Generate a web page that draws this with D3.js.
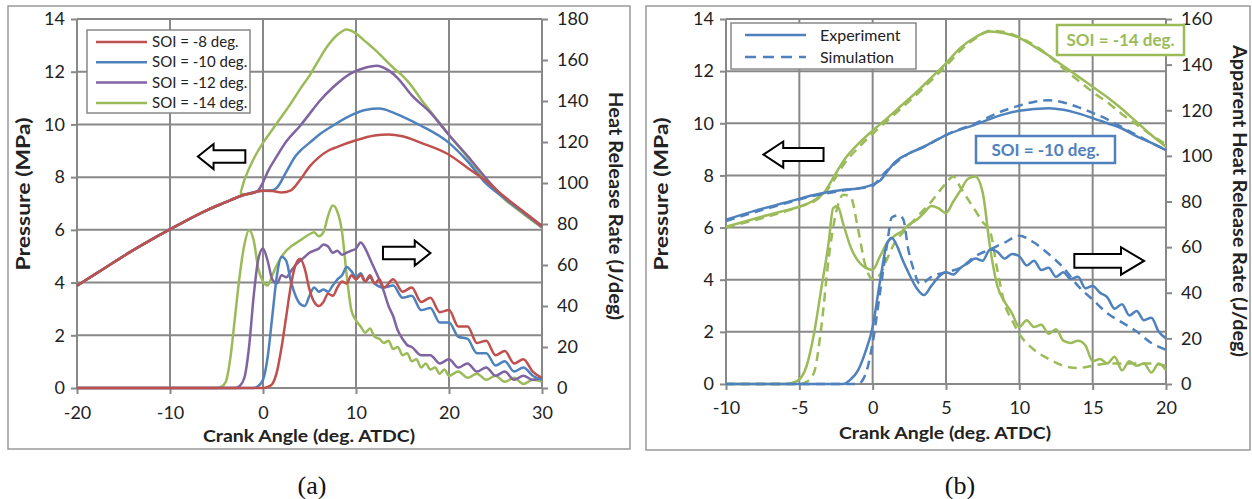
<!DOCTYPE html>
<html><head><meta charset="utf-8">
<script src="https://cdn.jsdelivr.net/npm/d3@7"></script>
<style>body{margin:0;background:#fff}svg{display:block}text{font-family:Lato,"Open Sans",sans-serif}</style>
</head><body><svg id="c" width="1252" height="499"></svg>
<script>
// ---------- DATA : panel (a) ----------
const xTicksA = [-20,-10,0,10,20,30];
const yTicksP = [0,2,4,6,8,10,12,14];
const yTicksHA = [0,20,40,60,80,100,120,140,160,180];
const seriesNamesA = ["SOI = -8 deg.","SOI = -10 deg.","SOI = -12 deg.","SOI = -14 deg."];
const commonP = [[-20,3.88],[-18,4.33],[-16,4.78],[-14,5.22],[-12,5.63],[-10,6.02],[-8,6.4],[-6,6.75],[-4,7.05],[-3,7.2],[-2,7.33]];
const presA_m8 = [[-1,7.42],[0,7.48],[1,7.47],[2,7.42],[3,7.5],[4,7.9],[5,8.4],[6,8.75],[7,9.0],[8,9.15],[10,9.4],[12,9.58],[13.5,9.62],[15,9.55],[17,9.3],[20,8.85],[22,8.35],[24,7.85],[26,7.25],[28,6.7],[30,6.15]];
const presA_m10 = [[-1,7.43],[0,7.48],[1,7.5],[1.5,7.6],[2.5,8.2],[3.5,8.8],[4,9.0],[5,9.3],[6,9.6],[7.5,9.95],[9.5,10.35],[11,10.55],[12.5,10.6],[14,10.45],[15,10.3],[17,9.95],[20,9.3],[22,8.6],[24,7.75],[26,7.2],[28,6.68],[30,6.15]];
const presA_m12 = [[-1,7.4],[-0.5,7.5],[0,7.8],[0.5,8.2],[1.5,8.8],[2.5,9.35],[4,9.95],[5,10.4],[6,10.85],[7.5,11.4],[9.5,11.95],[11,12.15],[12.2,12.23],[13.5,12.05],[14.5,11.75],[16,11.1],[18,10.45],[20,9.6],[22,8.8],[24,7.95],[26,7.2],[28,6.65],[30,6.1]];
const presA_m14 = [[-2.5,7.4],[-2,7.9],[-1,8.7],[0,9.3],[1,9.8],[2,10.3],[3,10.8],[4,11.35],[5,11.85],[6,12.45],[7,13.0],[8,13.4],[9,13.6],[10,13.45],[11,13.15],[12,12.85],[13,12.5],[14,12.15],[15,11.85],[16,11.45],[17,10.95],[18,10.5],[19,10.05],[20,9.6],[22,8.75],[24,7.85],[26,7.15],[28,6.6],[30,6.08]];
const hrrA_m8 = [[-20,0],[0,0],[0.5,0.5],[1,2],[1.5,8],[2,20],[2.5,35],[3,50],[3.5,60],[4,63],[4.5,58],[5,48],[5.5,42],[6,40],[6.5,42],[7,46],[7.5,45],[8,49],[8.5,52],[9,51],[9.5,55],[10,53],[10.5,55],[11,52],[11.5,55],[12,51],[12.5,53],[13,49],[14,53],[15,47],[16,49],[17,42],[18,44],[19,37],[20,38],[21,30],[22,30],[23,22],[24,23],[25,16],[26,18],[27,12],[28,14],[29,8],[30,5]];
const hrrA_m10 = [[-20,0],[-1,0],[-0.5,1],[0,4],[0.5,15],[1,35],[1.5,55],[2,64],[2.5,62],[3,52],[3.5,45],[4,41],[4.5,40],[5,45],[5.5,49],[6,47],[6.5,48],[7,47],[7.5,50],[8,53],[8.5,55],[9,59],[9.5,57],[10,54],[10.5,56],[11,52],[11.5,54],[12,51],[13,49],[14,50],[15,44],[16,45],[17,38],[18,39],[19,32],[20,32],[21,25],[22,24],[23,17],[24,17],[25,11],[26,13],[27,8],[28,10],[29,6],[30,4]];
const hrrA_m12 = [[-20,0],[-3,0],[-2.5,1],[-2,5],[-1.5,20],[-1,45],[-0.5,63],[0,68],[0.5,62],[1,53],[1.5,51],[2,55],[2.5,54],[3,57],[3.5,60],[4,62],[4.5,64],[5,66],[5.5,67],[6,68],[6.5,70],[7,69],[7.5,66],[8,67],[8.5,65],[9,66],[9.5,67],[10,68],[10.5,71],[11,68],[11.5,63],[12,58],[12.5,53],[13,47],[13.5,40],[14,35],[14.5,28],[15,24],[15.5,21],[16,20],[17,16],[18,16],[19,12],[20,14],[21,10],[22,12],[23,8],[24,10],[25,6],[26,8],[27,4],[28,6],[29,4],[30,5]];
const hrrA_m14 = [[-20,0],[-5,0],[-4.5,0.5],[-4,3],[-3.5,15],[-3,35],[-2.5,55],[-2,70],[-1.5,77],[-1,72],[-0.5,58],[0,52],[0.5,50],[1,55],[1.5,60],[2,64],[2.5,67],[3,69],[4,72],[5,75],[5.5,76],[6,74],[6.5,76],[7,84],[7.5,89],[8,86],[8.5,76],[9,55],[9.5,38],[10,33],[10.5,30],[11,27],[11.5,29],[12,25],[12.5,24],[13,22],[13.5,23],[14,19],[14.5,20],[15,16],[15.5,17],[16,13],[16.5,14],[17,10],[17.5,12],[18,9],[18.5,10],[19,7],[19.5,9],[20,6],[21,8],[22,5],[23,7],[24,4],[25,6],[26,3],[27,5],[28,2],[29,4],[30,3]];

// ---------- DATA : panel (b) ----------
const xTicksB = [-10,-5,0,5,10,15,20];
const yTicksHB = [0,20,40,60,80,100,120,140,160];
const legendNamesB = ["Experiment","Simulation"];
const presB_m10_exp = [[-10,6.3],[-8,6.65],[-6,6.95],[-4,7.25],[-2,7.45],[-1,7.5],[0,7.65],[0.5,7.8],[1,8.15],[1.5,8.5],[2.5,8.85],[3.5,9.1],[5,9.55],[7,9.95],[9,10.35],[10,10.48],[12,10.58],[13,10.52],[14,10.38],[15,10.2],[16,10.0],[17,9.8],[18,9.5],[19,9.25],[20,8.97]];
const presB_m10_sim = [[-10,6.25],[-8,6.6],[-6,6.92],[-4,7.22],[-2,7.42],[-1,7.5],[0,7.6],[0.5,7.9],[1,8.2],[1.5,8.45],[2.5,8.85],[3.5,9.1],[5,9.55],[7,10.0],[9,10.5],[10,10.68],[11,10.82],[12,10.88],[13,10.8],[14,10.62],[15,10.4],[16,10.15],[17,9.85],[18,9.55],[19,9.25],[20,8.98]];
const presB_m14_exp = [[-10,6.03],[-8,6.35],[-6,6.65],[-5,6.8],[-4,7.05],[-3.3,7.35],[-2.6,8.0],[-2,8.55],[-1,9.2],[0,9.72],[1,10.2],[2,10.7],[3,11.2],[4,11.75],[5,12.3],[6,12.9],[7,13.3],[8,13.52],[9,13.45],[10,13.28],[11,12.95],[12,12.6],[13,12.2],[14,11.8],[15,11.4],[16,11.0],[17,10.55],[18,10.05],[19,9.55],[20,9.1]];
const presB_m14_sim = [[-10,6.0],[-5,6.8],[-4,7.0],[-3.3,7.3],[-2.6,7.85],[-2,8.4],[-1,9.05],[0,9.6],[1,10.1],[2,10.6],[3,11.1],[4,11.65],[5,12.2],[6,12.8],[7,13.25],[8,13.55],[9,13.5],[10,13.3],[11,13.0],[12,12.6],[13,12.1],[14,11.65],[15,11.2],[16,10.8],[17,10.35],[18,9.95],[19,9.55],[20,9.2]];
const hrrB_m14_exp = [[-10,0],[-6,0],[-5.5,0.5],[-5,2],[-4.5,8],[-4,22],[-3.5,42],[-3,62],[-2.7,77],[-2.4,78],[-2,70],[-1.5,60],[-1,54],[-0.5,51],[0,50],[0.5,56],[1,62],[1.5,65],[2,67],[2.5,70],[3,72],[3.5,75],[4,78],[4.5,77],[5,75],[5.5,80],[6,85],[6.5,90],[7,91],[7.5,84],[8,60],[8.5,43],[9,36],[9.5,31],[10,25],[10.5,28],[11,25],[11.5,26],[12,22],[12.5,24],[13,19],[13.5,18],[14,19],[14.5,17],[15,10],[15.5,11],[16,9],[16.5,12],[17,6],[17.5,10],[18,8],[18.5,9],[19,5],[19.5,9],[20,6]];
const hrrB_m14_sim = [[-10,0],[-5,0],[-4.5,1],[-4,5],[-3.5,25],[-3,55],[-2.5,75],[-2,83],[-1.5,82],[-1,68],[-0.5,52],[0,46],[0.5,48],[1,55],[1.5,62],[2,66],[3,73],[4,80],[5,88],[5.5,91],[6,86],[6.5,81],[7,76],[7.5,71],[8,67],[8.5,50],[9,35],[9.5,28],[10,22],[11,15],[12,11],[13,8],[14,7],[15,8],[16,9],[17,9],[18,9],[19,9],[20,8]];
const hrrB_m10_exp = [[-10,0],[-2,0],[-1.5,2],[-1,6],[-0.5,14],[0,25],[0.5,45],[1,62],[1.3,64],[1.7,60],[2,55],[2.5,48],[3,42],[3.5,39],[4,43],[4.5,47],[5,49],[5.5,48],[6,51],[6.5,53],[7,55],[7.5,54],[8,59],[8.5,58],[9,55],[9.5,57],[10,56],[10.5,52],[11,54],[11.5,50],[12,51],[12.5,47],[13,49],[13.5,46],[14,47],[14.5,42],[15,43],[15.5,40],[16,38],[16.5,33],[17,35],[17.5,30],[18,32],[18.5,28],[19,29],[19.5,23],[20,20]];
const hrrB_m10_sim = [[-10,0],[-1,0],[-0.5,4],[0,18],[0.5,40],[1,62],[1.3,73],[1.8,74],[2.1,72],[2.4,60],[2.8,50],[3.2,44],[3.6,45],[4,47],[5,49],[6,51],[7,56],[8,59],[9,62],[10,65],[11,62],[12,57],[13,51],[14,43],[15,37],[16,31],[17,27],[18,23],[19,18],[20,15]];

const C = {red:"#C0504D", blue:"#4F81BD", purple:"#8064A2", green:"#9BBB59"};
const svg = d3.select("#c");
svg.append("rect").attr("width",1252).attr("height",499).attr("fill","#fff");

function panel(o){
  const g = svg.append("g");
  g.append("rect").attr("x",o.frame[0]).attr("y",o.frame[1]).attr("width",o.frame[2]).attr("height",o.frame[3])
    .attr("fill","none").attr("stroke","#999").attr("stroke-width",1.5);
  const x = d3.scaleLinear().domain(o.xd).range([o.x0,o.x1]);
  const yL = d3.scaleLinear().domain([0,14]).range([o.y0,o.y1]);
  const yR = d3.scaleLinear().domain([0,o.rmax]).range([o.y0,o.y1]);
  const grid = "#888";
  const fmt = d=>String(d);
  o.xt.forEach(t=>g.append("line").attr("x1",x(t)).attr("x2",x(t)).attr("y1",o.y0).attr("y2",o.y1).attr("stroke",grid).attr("stroke-width",2));
  yTicksP.forEach(t=>g.append("line").attr("x1",o.x0).attr("x2",o.x1).attr("y1",yL(t)).attr("y2",yL(t)).attr("stroke",grid).attr("stroke-width",2));
  const ax = (sel)=>{sel.selectAll(".domain").remove();sel.selectAll(".tick line").attr("stroke",grid).attr("stroke-width",2);
    sel.selectAll("text").attr("font-size",18).attr("fill","#222").style("font-family","Lato,'Open Sans',sans-serif");};
  g.append("g").attr("transform",`translate(0,${o.y0})`).call(d3.axisBottom(x).tickValues(o.xt).tickFormat(fmt).tickSize(6).tickPadding(o.xpad)).call(ax);
  g.append("g").attr("transform",`translate(${o.x0},0)`).call(d3.axisLeft(yL).tickValues(yTicksP).tickFormat(fmt).tickSize(6).tickPadding(6)).call(ax);
  g.append("g").attr("transform",`translate(${o.x1},0)`).call(d3.axisRight(yR).tickValues(o.rt).tickFormat(fmt).tickSize(6).tickPadding(9)).call(ax);
  const bold = (sel,len,fs)=>sel.attr("text-anchor","middle").attr("font-size",fs).attr("font-weight","bold").attr("fill","#222")
      .attr("textLength",len).attr("lengthAdjust","spacingAndGlyphs");
  g.append("text").attr("x",o.xtc).attr("y",o.y0+o.xty).call(bold,212,17).text("Crank Angle (deg. ATDC)");
  g.append("text").attr("transform",`translate(${o.lx},194) rotate(-90)`).call(bold,153,19).text("Pressure (MPa)");
  g.append("text").attr("transform",`translate(${o.rx},${o.rty}) rotate(90)`).call(bold,o.rlen,19).text(o.rtitle);
  g.append("text").attr("x",o.cap[0]).attr("y",o.cap[1]).attr("text-anchor","middle").attr("font-size",26).style("font-family","'Liberation Serif','Times New Roman',serif").attr("fill","#111").text(o.caption);
  const lp = d3.line().x(d=>x(d[0])).y(d=>yL(d[1])).curve(d3.curveMonotoneX);
  const lh = d3.line().x(d=>x(d[0])).y(d=>yR(d[1])).curve(d3.curveMonotoneX);
  // arrows: [tipCA, tailCA, centerP, heightP]
  o.arrows.forEach(a=>{
    const tip=x(a[0]), tail=x(a[1]), cy=yL(a[2]), h=yL(0)-yL(a[3]);
    const dir = Math.sign(tail-tip); const hl = Math.abs(tail-tip)*0.33;
    const hb=h*0.25, hh=h*0.5;
    const pts=[[tip,cy],[tip+dir*hl,cy-hh],[tip+dir*hl,cy-hb],[tail,cy-hb],[tail,cy+hb],[tip+dir*hl,cy+hb],[tip+dir*hl,cy+hh]];
    g.append("polygon").attr("points",pts.map(p=>p.join(",")).join(" ")).attr("fill","#fff").attr("stroke","#000").attr("stroke-width",2);
  });
  return {g,x,yL,yR,lp,lh};
}

// ---- panel (a)
const A = panel({frame:[8,6,622,443], xd:[-20,30], x0:77, x1:542, y0:388, y1:19, rmax:180, xt:xTicksA, rt:yTicksHA, xpad:12, xty:54, xtc:309,
  lx:30, rx:609, rty:206, rlen:228, rtitle:"Heat Release Rate (J/deg)", cap:[312,494], caption:"(a)",
  arrows:[[-7.0,-1.9,8.78,0.95],[18.0,12.9,5.12,0.95]]});
const presA=[presA_m8,presA_m10,presA_m12,presA_m14], hrrA=[hrrA_m8,hrrA_m10,hrrA_m12,hrrA_m14];
const colA=[C.red,C.blue,C.purple,C.green];
[3,2,1,0].forEach(i=>{
  A.g.append("path").attr("d",A.lh(hrrA[i])).attr("fill","none").attr("stroke",colA[i]).attr("stroke-width",2.5);
});
[3,2,1,0].forEach(i=>{
  A.g.append("path").attr("d",A.lp(commonP.concat(presA[i]))).attr("fill","none").attr("stroke",colA[i]).attr("stroke-width",2.5);
});
// legend (a)
const legA = A.g.append("g");
legA.append("rect").attr("x",87).attr("y",30).attr("width",163).attr("height",83).attr("fill","#fff").attr("stroke","#888").attr("stroke-width",1.5);
seriesNamesA.forEach((n,i)=>{
  const yy=42+i*20.3;
  legA.append("line").attr("x1",96).attr("x2",147).attr("y1",yy).attr("y2",yy).attr("stroke",colA[i]).attr("stroke-width",2.5);
  legA.append("text").attr("x",152).attr("y",yy+5).attr("font-size",15).attr("fill","#222").text(n);
});

// ---- panel (b)
const B = panel({frame:[646,6,604,444], xd:[-10,20], x0:726, x1:1166, y0:384, y1:19, rmax:160, xt:xTicksB, rt:yTicksHB, xpad:11, xty:55, xtc:945,
  lx:668, rx:1233, rty:201, rlen:312, rtitle:"Apparent Heat Release Rate (J/deg)", cap:[960,494], caption:"(b)",
  arrows:[[-7.45,-3.35,8.8,1.0],[18.5,13.75,4.72,1.05]]});
const dash="9,6";
[[hrrB_m14_exp,C.green,null],[hrrB_m14_sim,C.green,dash],[hrrB_m10_exp,C.blue,null],[hrrB_m10_sim,C.blue,dash]].forEach(s=>{
  B.g.append("path").attr("d",B.lh(s[0])).attr("fill","none").attr("stroke",s[1]).attr("stroke-width",2.5).attr("stroke-dasharray",s[2]);
});
[[presB_m14_exp,C.green,null],[presB_m14_sim,C.green,dash],[presB_m10_exp,C.blue,null],[presB_m10_sim,C.blue,dash]].forEach(s=>{
  B.g.append("path").attr("d",B.lp(s[0])).attr("fill","none").attr("stroke",s[1]).attr("stroke-width",2.5).attr("stroke-dasharray",s[2]);
});
const legB = B.g.append("g");
legB.append("rect").attr("x",731).attr("y",23).attr("width",185).attr("height",46).attr("fill","#fff").attr("stroke","#888").attr("stroke-width",1.5);
legendNamesB.forEach((n,i)=>{
  const yy=35+i*22;
  legB.append("line").attr("x1",745).attr("x2",806).attr("y1",yy).attr("y2",yy).attr("stroke",C.blue).attr("stroke-width",2.5).attr("stroke-dasharray",i?"11,7":null);
  legB.append("text").attr("x",820).attr("y",yy+6).attr("font-size",16).attr("fill","#222").text(n);
});
// labelled boxes
[["SOI = -14 deg.",C.green,1057,25,127,30],["SOI = -10 deg.",C.blue,976,136,139,27]].forEach(b=>{
  B.g.append("rect").attr("x",b[2]).attr("y",b[3]).attr("width",b[4]).attr("height",b[5]).attr("fill","#fff").attr("stroke",b[1]).attr("stroke-width",2.5);
  B.g.append("text").attr("x",b[2]+b[4]/2).attr("y",b[3]+b[5]/2+6).attr("text-anchor","middle").attr("font-size",17).attr("font-weight","bold").attr("fill",b[1]).text(b[0]);
});
</script></body></html>
